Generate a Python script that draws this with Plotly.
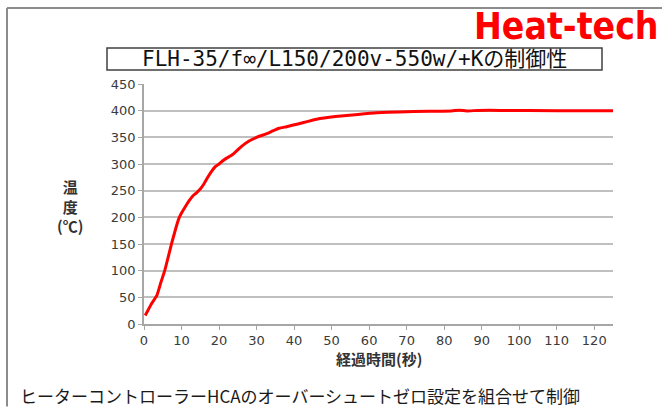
import plotly.graph_objects as go

# ---- data ----
time_s = [0.3, 1, 2, 3.4, 4.5, 5.6, 6.5, 7.4, 8.5, 9.3, 10, 11, 12, 13, 14, 15, 16, 17, 18, 19,
          20, 21, 22, 23, 24, 26, 28, 30, 32, 34, 36, 38, 41, 46, 51, 57, 62, 68, 76, 82, 84,
          86, 89, 95, 110, 125]
temp_c = [16, 25, 38, 53, 78, 102, 127, 152, 180, 198, 208, 220, 231, 240, 246, 253, 263, 275, 286, 295,
          300, 306, 311, 315, 320, 333, 343, 350, 355, 361, 367, 370, 375, 384, 389, 393, 396, 397.5, 399, 399.5, 401,
          399.5, 400.5, 400.5, 400, 400]
x_ticks = list(range(0, 121, 10))
y_ticks = list(range(0, 451, 50))

title_text = "FLH-35/f∞/L150/200v-550w/+Kの制御性"
brand_text = "Heat-tech"
x_title = "経過時間(秒)"
y_title = "温<br>度<br>(℃)"
caption = "ヒーターコントローラーHCAのオーバーシュートゼロ設定を組合せて制御"

W, H = 662, 407
L, R, T, B = 144, 613, 84, 324.3


def px(x):
    return (x - L) / (R - L)


def py(y):
    return (B - y) / (B - T)


fig = go.Figure()
fig.add_trace(go.Scatter(x=time_s, y=temp_c, mode="lines",
                         line=dict(color="#ff0000", width=3, shape="spline", smoothing=0.4),
                         showlegend=False, hoverinfo="x+y"))

tick_font = dict(family="DejaVu Sans, Verdana", size=13, color="#3a3a3a")

fig.update_layout(
    width=W, height=H, autosize=False,
    margin=dict(l=L, r=W - R, t=T, b=H - B, pad=0),
    paper_bgcolor="white", plot_bgcolor="white",
    xaxis=dict(range=[0, 125], tickvals=x_ticks, showgrid=False, zeroline=False,
               showline=True, linecolor="#a6a6a6", linewidth=1.5,
               ticks="outside", ticklen=4, tickcolor="#a6a6a6", tickfont=tick_font),
    yaxis=dict(range=[0, 450], tickvals=y_ticks, showgrid=True, gridcolor="#bfbfbf", gridwidth=1.5,
               zeroline=False, showline=True, linecolor="#a6a6a6", linewidth=1.5,
               ticks="outside", ticklen=4, tickcolor="#a6a6a6", tickfont=tick_font),
    shapes=[
        dict(type="line", xref="paper", yref="paper", x0=px(7), x1=px(7), y0=py(8), y1=py(407),
             line=dict(color="#8c8c8c", width=2)),
        dict(type="line", xref="paper", yref="paper", x0=px(7), x1=px(662), y0=py(8), y1=py(8),
             line=dict(color="#8c8c8c", width=2)),
        dict(type="rect", xref="paper", yref="paper", x0=px(107), x1=px(602), y0=py(48), y1=py(70),
             line=dict(color="#404040", width=1.5), fillcolor="white"),
    ],
    annotations=[
        dict(text=f"<b>{brand_text}</b>", xref="paper", yref="paper", x=px(661), y=py(26),
             xanchor="right", yanchor="middle", showarrow=False,
             font=dict(family="DejaVu Sans Condensed, DejaVu Sans", size=37, color="#ff0000")),
        dict(text=title_text, xref="paper", yref="paper", x=px(354.5), y=py(59),
             xanchor="center", yanchor="middle", showarrow=False,
             font=dict(family="DejaVu Sans Mono, Noto Sans CJK JP", size=21, color="#111111")),
        dict(text=f"<b>{x_title}</b>", xref="paper", yref="paper", x=px(379), y=py(359),
             xanchor="center", yanchor="middle", showarrow=False,
             font=dict(family="Noto Sans CJK JP", size=15, color="#333333")),
        dict(text=f"<b>{y_title}</b>", xref="paper", yref="paper", x=px(70), y=py(206),
             xanchor="center", yanchor="middle", showarrow=False,
             font=dict(family="Noto Sans CJK JP", size=15, color="#333333")),
        dict(text=caption, xref="paper", yref="paper", x=px(18), y=py(396),
             xanchor="left", yanchor="middle", showarrow=False,
             font=dict(family="Noto Sans CJK JP", size=17, color="#1a1a1a")),
    ],
)

fig.write_html("out.html", config={"displayModeBar": False},
               post_script="document.body.style.margin='0';document.body.style.overflow='hidden';")
